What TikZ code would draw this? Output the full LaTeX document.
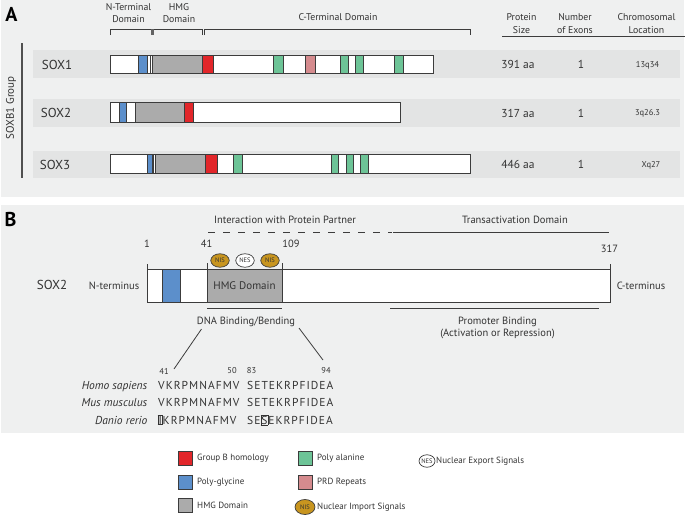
\documentclass[tikz,border=0pt]{standalone}
\usepackage{fontspec}
\setmainfont{PT Sans}
\usetikzlibrary{shapes.geometric}
\definecolor{panelbg}{HTML}{EFF0F0}
\definecolor{band}{HTML}{E3E4E4}
\definecolor{hmg}{HTML}{ABABAB}
\definecolor{grpb}{HTML}{E2262A}
\definecolor{pgly}{HTML}{5C8FCB}
\definecolor{pala}{HTML}{6DC497}
\definecolor{prd}{HTML}{D58B8E}
\definecolor{nisc}{HTML}{C8951F}
\definecolor{edge}{HTML}{3C3C3C}
\definecolor{txt}{HTML}{333333}
\newcommand\pseg[5]{\draw[edge,line width=0.8pt,fill=#5] (#1,#3) rectangle (#2,#4);}
\newcommand\pline[3]{\draw[edge,line width=0.8pt] (#1,#2) -- (#1,#3);}
\begin{document}
\begin{tikzpicture}[x=1pt,y=-1pt,
  lbl/.style={font=\fontsize{9.8}{12.5}\selectfont, text=txt, inner sep=0, align=center},
  lblb/.style={font=\fontsize{10.5}{12.5}\selectfont, text=txt, inner sep=0, align=center},
  rowlbl/.style={font=\fontsize{13}{15}\selectfont, text=txt, inner sep=0},
  val/.style={font=\fontsize{11.5}{13}\selectfont, text=txt, inner sep=0},
  small/.style={font=\fontsize{8.5}{10}\selectfont, text=txt, inner sep=0},
  bigletter/.style={font=\fontsize{20}{22}\selectfont\bfseries, text=black, inner sep=0},
  bracket/.style={draw=edge, line width=0.8pt},
  seq/.style={font=\fontsize{11.5}{13}\selectfont\addfontfeature{LetterSpace=9}, text=txt, inner sep=0, anchor=base west},
  species/.style={font=\fontsize{11.5}{12}\selectfont\itshape, text=txt, inner sep=0, anchor=base east},
  sig/.style={ellipse, draw=edge, line width=0.7pt, minimum width=18.5pt, minimum height=13.5pt, inner sep=0, font=\fontsize{6.5}{7}\selectfont, text=txt},
  legbox/.style={draw=edge, line width=0.8pt, minimum width=14pt, minimum height=14pt, inner sep=0},
  legtext/.style={font=\fontsize{9}{10}\selectfont, text=txt, inner sep=0, anchor=west}
]
\useasboundingbox (0,0) rectangle (685,517);
% panel backgrounds
\fill[panelbg] (1,0) rectangle (684,197);
\fill[panelbg] (1,205) rectangle (684,433);
% ---------------- Panel A
\node[bigletter] (A) at (11.5,14) {A};
\node[lbl] (nterm) at (128.5,13) {N-Terminal\\Domain};
\node[lbl] (hmgh) at (179,13) {HMG\\Domain};
\node[lbl] (cterm) at (338,17.5) {C-Terminal Domain};
\node[lbl] (psize) at (521.5,23.5) {Protein\\Size};
\node[lbl] (nexon) at (575,23.5) {Number\\of Exons};
\node[lbl] (cloc) at (646.5,23.5) {Chromosomal\\Location};
\draw[bracket] (502,36) -- (685,36);
% brackets
\draw[bracket] (110,35) -- (110,29) -- (152,29);
\fill[edge!80] (151,28.5) rectangle (154,35);
\draw[bracket] (154,29) -- (202,29) -- (202,35);
\draw[bracket] (204,35) -- (204,29) -- (470,29) -- (470,35);
% group label
\node[font=\fontsize{11}{12}\selectfont, text=txt, inner sep=0, rotate=90] (grp) at (11,108) {SOXB1 Group};
\draw[edge!90, line width=1.1pt] (22,43) -- (22,178);
% bands
\fill[band] (33,50) rectangle (680,78);
\fill[band] (33,99) rectangle (680,127);
\fill[band] (33,151) rectangle (680,178);
% SOX1
\node[rowlbl] (s1) at (57,65) {SOX1};
\pseg{110}{433}{55}{73}{white}
\pseg{138}{147}{55}{73}{pgly}
\pline{150}{55}{73}
\pseg{152}{202}{55}{73}{hmg}
\pseg{202}{213}{55}{73}{grpb}
\pseg{273}{283}{55}{73}{pala}
\pseg{305}{315}{55}{73}{prd}
\pseg{340}{348}{55}{73}{pala}
\pseg{355}{363}{55}{73}{pala}
\pseg{394}{403}{55}{73}{pala}
\node[val] (s1a) at (518,64.5) {391 aa};
\node[val] (s1b) at (581,64.5) {1};
\node[small] (s1c) at (647.5,65) {13q34};
% SOX2
\node[rowlbl] (s2) at (56,113) {SOX2};
\pseg{110}{400}{102}{122}{white}
\pseg{119}{126}{102}{122}{pgly}
\pseg{135}{184}{102}{122}{hmg}
\pseg{184}{193}{102}{122}{grpb}
\node[val] (s2a) at (518,113) {317 aa};
\node[val] (s2b) at (581,113) {1};
\node[small] (s2c) at (647.5,113.5) {3q26.3};
% SOX3
\node[rowlbl] (s3) at (55,165) {SOX3};
\pseg{110}{470}{154}{173}{white}
\pseg{147}{152}{154}{173}{pgly}
\pline{153.5}{154}{173}
\pseg{155}{205}{154}{173}{hmg}
\pseg{205}{217}{154}{173}{grpb}
\pseg{233}{242}{154}{173}{pala}
\pseg{331}{338}{154}{173}{pala}
\pseg{346}{353}{154}{173}{pala}
\pseg{360}{368}{154}{173}{pala}
\node[val] (s3a) at (518,164.5) {446 aa};
\node[val] (s3b) at (581,164.5) {1};
\node[small] (s3c) at (651,165) {Xq27};
% ---------------- Panel B
\node[bigletter] (B) at (10.5,219.5) {B};
\node[lblb] (inter) at (285,220) {Interaction with Protein Partner};
\node[lblb] (trans) at (515,220) {Transactivation Domain};
\draw[edge, line width=0.9pt, dash pattern=on 7pt off 8pt] (208,232.5) -- (392,232.5);
\draw[edge, line width=0.9pt] (393,232.5) -- (609,232.5);
\node[lblb] (n1) at (147,243.5) {1};
\node[lblb] (n41) at (206.5,243.5) {41};
\node[lblb] (n109) at (291,243.5) {109};
\node[lblb] (n317) at (609.5,248.5) {317};
% bar
\pseg{147}{610}{269}{302}{white}
\pline{147}{264}{269}
\pline{610}{264}{269}
\pseg{162}{180}{269}{302}{pgly}
\pseg{207}{282}{269}{302}{hmg}
\pline{207}{263}{269}
\pline{282}{263}{269}
\node[lblb, font=\fontsize{11}{12}\selectfont] (hmgb) at (244.5,286) {HMG Domain};
\node[rowlbl] (sox2b) at (52,285) {SOX2};
\node[lblb] (nt) at (114,286) {N-terminus};
\node[lblb] (ct) at (641,286) {C-terminus};
\node[sig, fill=nisc] (nis1) at (220,260.5) {NIS};
\node[sig, fill=white] (nes) at (245,260.5) {NES};
\node[sig, fill=nisc] (nis2) at (270,260.5) {NIS};
\draw[edge, line width=0.9pt] (207,308) -- (282,308);
\node[lblb] (dna) at (246,322) {DNA Binding/Bending};
\draw[edge, line width=0.9pt] (390,308) -- (599,308);
\node[lblb] (prom) at (497.5,328) {Promoter Binding\\(Activation or Repression)};
% sequence
\node[small] (q41) at (164,371) {41};
\node[small] (q50) at (232,371) {50};
\node[small] (q83) at (251.5,371) {83};
\node[small] (q94) at (326,371) {94};
\coordinate (l1a) at (201.5,329);
\coordinate (l1b) at (174,369);
\coordinate (l2a) at (299,328);
\coordinate (l2b) at (323,360);
\draw[edge, line width=0.8pt] (l1a) -- (l1b);
\draw[edge, line width=0.8pt] (l2a) -- (l2b);
\node[species] (hs) at (147.5,389) {Homo sapiens};
\node[species] (mm) at (147.5,406.5) {Mus musculus};
\node[species] (dr) at (147.5,424) {Danio rerio};
\node[seq] (hs1) at (158,389) {VKRPMNAFMV};
\node[seq] (hs2) at (247,389) {SETEKRPFIDEA};
\node[seq] (mm1) at (158,406.5) {VKRPMNAFMV};
\node[seq] (mm2) at (247,406.5) {SETEKRPFIDEA};
\setlength{\fboxsep}{0.4pt}\setlength{\fboxrule}{0.45pt}
\node[seq] (dr1) at (157.5,424) {\fbox{I}KRPMNAFMV};
\node[seq] (dr2) at (247,424) {SE\fbox{S}EKRPFIDEA};
% ---------------- Legend
\node[legbox, fill=grpb] (lg1) at (185,458.5) {};
\node[legtext] (lt1) at (197,458.5) {Group B homology};
\node[legbox, fill=pgly] (lg2) at (185,482) {};
\node[legtext] (lt2) at (197,482) {Poly-glycine};
\node[legbox, fill=hmg] (lg3) at (185,505.5) {};
\node[legtext] (lt3) at (197,505.5) {HMG Domain};
\node[legbox, fill=pala] (lg4) at (305,458.5) {};
\node[legtext] (lt4) at (317,458.5) {Poly alanine};
\node[legbox, fill=prd] (lg5) at (305,482) {};
\node[legtext] (lt5) at (317,482) {PRD Repeats};
\node[sig, fill=nisc, minimum width=20pt, minimum height=15pt] (lg6) at (305,507) {NIS};
\node[legtext] (lt6) at (317,507) {Nuclear Import Signals};
\node[sig, fill=white, minimum width=15pt, minimum height=12.5pt] (lg7) at (427,461) {NES};
\node[legtext] (lt7) at (436,461) {Nuclear Export Signals};
\end{tikzpicture}
\end{document}
